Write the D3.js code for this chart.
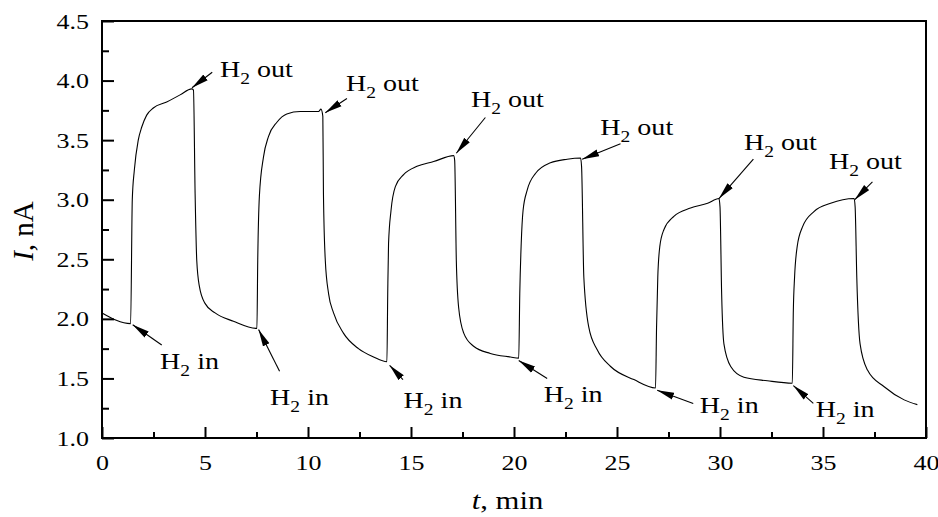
<!DOCTYPE html>
<html>
<head>
<meta charset="utf-8">
<script src="https://cdn.jsdelivr.net/npm/d3@7"></script>
<style>
  body { margin: 0; background: #fff; }
</style>
</head>
<body>
<div id="chart"></div>
<script>
// time (min) and current (nA)
var timeMin = [
  0, 1.39, 1.47, 1.57, 1.76, 1.93, 2.17, 2.49, 3.14, 3.79, 4.36, 4.44, 4.52, 4.60, 4.73, 5.0, 5.49, 6.38, 7.52,
  7.56, 7.64, 7.84, 8.08, 8.49, 8.97, 9.62, 10.51, 10.63, 10.72, 10.75, 10.84, 11.0, 11.24, 11.72, 12.45, 13.18, 13.83,
  13.87, 13.91, 14.03, 14.24, 14.64, 15.29, 16.1, 17.07, 17.12, 17.2, 17.31, 17.56, 18.04, 18.85, 19.83, 20.23,
  20.28, 20.35, 20.44, 20.64, 21.04, 21.77, 22.58, 23.23, 23.28, 23.39, 23.63, 24.04, 24.69, 25.82, 26.87,
  26.92, 26.98, 27.08, 27.28, 27.76, 28.57, 29.4, 29.95, 30.0, 30.08, 30.19, 30.52, 31.16, 32.3, 33.51,
  33.56, 33.62, 33.75, 34.0, 34.56, 35.37, 36.51, 36.56, 36.64, 36.8, 37.16, 37.97, 38.94, 39.58
];
var currentNA = [
  2.05, 1.96, 3.0, 3.25, 3.50, 3.61, 3.71, 3.77, 3.82, 3.88, 3.93, 3.92, 3.05, 2.49, 2.27, 2.13, 2.05, 1.98, 1.92,
  2.49, 3.03, 3.36, 3.53, 3.65, 3.72, 3.74, 3.74, 3.76, 3.70, 3.05, 2.49, 2.21, 2.05, 1.88, 1.75, 1.68, 1.64,
  2.21, 2.63, 2.91, 3.11, 3.21, 3.28, 3.32, 3.37, 3.33, 2.49, 2.10, 1.88, 1.77, 1.71, 1.68, 1.67,
  2.21, 2.63, 2.91, 3.08, 3.22, 3.31, 3.34, 3.35, 3.28, 2.35, 1.93, 1.74, 1.60, 1.49, 1.42,
  1.93, 2.35, 2.61, 2.75, 2.86, 2.93, 2.97, 3.01, 2.94, 2.21, 1.79, 1.60, 1.51, 1.48, 1.46,
  2.07, 2.35, 2.61, 2.77, 2.90, 2.97, 3.01, 2.94, 2.35, 1.79, 1.57, 1.43, 1.32, 1.28
];

var xMajor = [0, 5, 10, 15, 20, 25, 30, 35, 40];
var xMinor = [2.5, 7.5, 12.5, 17.5, 22.5, 27.5, 32.5, 37.5];
var yMajor = [1.0, 1.5, 2.0, 2.5, 3.0, 3.5, 4.0, 4.5];
var yMinor = [1.25, 1.75, 2.25, 2.75, 3.25, 3.75, 4.25];

// annotations: arrow tip [t, I], arrow tail [t, I], label start [t, I]
var outTip   = [[4.37, 3.94], [10.84, 3.73], [17.20, 3.39], [23.31, 3.34], [29.95, 3.01], [36.54, 3.00]];
var outTail  = [[5.35, 4.07], [11.89, 3.85], [18.61, 3.69], [25.17, 3.47], [31.62, 3.34], [37.40, 3.15]];
var outLabel = [[5.73, 4.03], [11.84, 3.915], [17.91, 3.78], [24.19, 3.54], [31.16, 3.42], [35.29, 3.26]];
var inTip    = [[1.49, 1.95], [7.60, 1.91], [13.96, 1.61], [20.23, 1.65], [26.95, 1.40], [33.56, 1.44]];
var inTail   = [[2.90, 1.78], [8.62, 1.56], [14.61, 1.49], [21.61, 1.50], [28.70, 1.29], [34.53, 1.29]];
var inLabel  = [[2.82, 1.58], [8.16, 1.28], [14.64, 1.25], [21.44, 1.30], [29.02, 1.21], [34.65, 1.18]];

var W = 938, H = 517;
var margin = {top: 21, right: 12, bottom: 79, left: 102},
    width = W - margin.left - margin.right,
    height = H - margin.top - margin.bottom;
var serif = "Liberation Serif";
var stretch = 1.18; // glyphs in the original are a bit wide

var svg = d3.select("#chart").append("svg").attr("width", W).attr("height", H),
    g = svg.append("g").attr("transform", "translate(" + margin.left + "," + margin.top + ")");

svg.append("defs").append("marker")
    .attr("id", "head")
    .attr("markerUnits", "userSpaceOnUse")
    .attr("viewBox", "0 -4 17 8")
    .attr("refX", 17).attr("refY", 0)
    .attr("markerWidth", 17).attr("markerHeight", 8)
    .attr("orient", "auto")
  .append("path")
    .attr("d", "M0,-3.6L17,0L0,3.6Z")
    .attr("fill", "#000");

var x = d3.scaleLinear().domain([0, 40]).range([0, width]);
var y = d3.scaleLinear().domain([1.0, 4.5]).range([height, 0]);

// major ticks + labels (ticks point inward)
var xAx = g.append("g")
    .attr("class", "axis")
    .attr("transform", "translate(0," + height + ")")
    .call(d3.axisBottom(x).tickValues(xMajor).tickSize(-11).tickPadding(16).tickFormat(d3.format("d")));
g.append("g")
    .attr("class", "axis")
    .attr("transform", "translate(0," + height + ")")
    .call(d3.axisBottom(x).tickValues(xMinor).tickSize(-6).tickFormat(""));
var yAx = g.append("g")
    .attr("class", "axis")
    .call(d3.axisLeft(y).tickValues(yMajor).tickSize(-12).tickPadding(13).tickFormat(d3.format(".1f")));
g.append("g")
    .attr("class", "axis")
    .call(d3.axisLeft(y).tickValues(yMinor).tickSize(-7).tickFormat(""));

g.selectAll(".axis .domain").remove();
g.selectAll(".axis line").attr("stroke", "#000").attr("stroke-width", 2);
g.selectAll(".axis text")
    .attr("font-family", serif)
    .attr("font-size", 22)
    .attr("fill", "#000");
xAx.selectAll("text").attr("transform", "scale(" + stretch + ",1)");
yAx.selectAll("text")
    .attr("x", -13 / stretch)
    .attr("transform", "scale(" + stretch + ",1)");

// frame
g.append("rect")
    .attr("width", width).attr("height", height)
    .attr("fill", "none").attr("stroke", "#000").attr("stroke-width", 2);

// trace
var pts = d3.zip(timeMin, currentNA);
var line = d3.line()
    .x(function(d) { return x(d[0]); })
    .y(function(d) { return y(d[1]); })
    .curve(d3.curveMonotoneX);

g.append("path")
    .datum(pts)
    .attr("fill", "none")
    .attr("stroke", "#000")
    .attr("stroke-width", 1.1)
    .attr("d", line);

// annotations
function annotate(tips, tails, labels, word) {
  for (var i = 0; i < tips.length; i++) {
    g.append("line")
        .attr("x1", x(tails[i][0])).attr("y1", y(tails[i][1]))
        .attr("x2", x(tips[i][0])).attr("y2", y(tips[i][1]))
        .attr("stroke", "#000").attr("stroke-width", 1.1)
        .attr("marker-end", "url(#head)");
    var t = g.append("text")
        .attr("transform", "translate(" + x(labels[i][0]) + "," + y(labels[i][1]) + ") scale(1.22,1)")
        .attr("font-family", serif)
        .attr("font-size", 23)
        .attr("fill", "#000");
    t.append("tspan").text("H");
    t.append("tspan").attr("font-size", 16).attr("dy", 7).text("2");
    t.append("tspan").attr("dy", -7).text(" " + word);
  }
}
annotate(outTip, outTail, outLabel, "out");
annotate(inTip, inTail, inLabel, "in");

// axis titles
var yt = svg.append("text")
    .attr("transform", "translate(33,231) rotate(-90)")
    .attr("text-anchor", "middle")
    .attr("font-family", serif)
    .attr("font-size", 29)
    .attr("fill", "#000");
yt.append("tspan").attr("font-style", "italic").text("I");
yt.append("tspan").text(", nA");

var xt = svg.append("text")
    .attr("transform", "translate(507.5,509) scale(" + stretch + ",1)")
    .attr("text-anchor", "middle")
    .attr("font-family", serif)
    .attr("font-size", 26)
    .attr("fill", "#000");
xt.append("tspan").attr("font-style", "italic").text("t");
xt.append("tspan").text(", min");
</script>
</body>
</html>
